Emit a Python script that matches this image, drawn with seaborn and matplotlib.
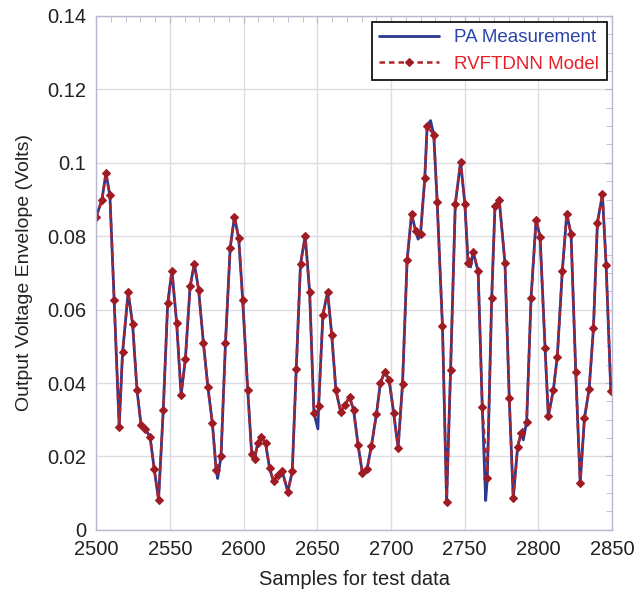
import numpy as np
import pandas as pd
import matplotlib
matplotlib.use("Agg")
import matplotlib.pyplot as plt
import seaborn as sns
from matplotlib.ticker import MultipleLocator

# Sample index where each model marker sits
model_samples = [
    2500.0, 2503.9, 2506.6, 2509.3, 2512.2, 2515.6, 2517.9, 2521.7, 2524.7, 2527.7,
    2530.4, 2533.3, 2536.5, 2539.4, 2542.3, 2545.5, 2548.5, 2551.4, 2554.6, 2557.6,
    2560.5, 2563.7, 2566.6, 2569.5, 2572.7, 2575.8, 2578.8, 2581.4, 2584.7, 2587.7,
    2590.9, 2593.8, 2596.7, 2599.4, 2602.8, 2605.5, 2607.4, 2609.6, 2611.9, 2614.9,
    2617.6, 2620.3, 2623.2, 2626.2, 2630.0, 2633.0, 2635.7, 2638.6, 2641.8, 2644.8,
    2647.7, 2650.9, 2653.8, 2657.0, 2659.8, 2662.6, 2665.8, 2668.5, 2671.9, 2674.6,
    2677.6, 2680.6, 2683.7, 2686.7, 2690.1, 2692.8, 2695.7, 2698.7, 2701.8, 2704.8,
    2707.8, 2710.9, 2713.9, 2716.8, 2720.0, 2722.9, 2724.5, 2729.0, 2731.3, 2734.9,
    2737.7, 2740.4, 2743.6, 2747.2, 2750.1, 2752.3, 2755.7, 2759.1, 2761.9, 2765.3,
    2768.3, 2770.5, 2773.4, 2777.3, 2780.2, 2782.9, 2785.9, 2788.2, 2792.0, 2795.0,
    2798.4, 2801.1, 2804.5, 2806.7, 2810.1, 2812.8, 2816.2, 2819.2, 2822.1, 2825.3,
    2828.3, 2831.2, 2834.4, 2837.3, 2840.0, 2843.4, 2845.9, 2849.1,
]
model_volts = [
    0.0853, 0.0899, 0.0972, 0.0911, 0.0625, 0.0281, 0.0484, 0.0647, 0.0560, 0.0381,
    0.0286, 0.0274, 0.0254, 0.0165, 0.0082, 0.0327, 0.0617, 0.0706, 0.0563, 0.0368,
    0.0465, 0.0663, 0.0725, 0.0654, 0.0510, 0.0388, 0.0291, 0.0163, 0.0202, 0.0509,
    0.0769, 0.0853, 0.0794, 0.0625, 0.0381, 0.0206, 0.0193, 0.0236, 0.0254, 0.0236,
    0.0168, 0.0132, 0.0150, 0.0159, 0.0104, 0.0159, 0.0438, 0.0724, 0.0801, 0.0647,
    0.0318, 0.0338, 0.0586, 0.0649, 0.0530, 0.0381, 0.0322, 0.0340, 0.0361, 0.0327,
    0.0232, 0.0154, 0.0165, 0.0229, 0.0315, 0.0400, 0.0431, 0.0409, 0.0318, 0.0223,
    0.0398, 0.0734, 0.0860, 0.0813, 0.0806, 0.0958, 0.1100, 0.1076, 0.0894, 0.0554,
    0.0077, 0.0436, 0.0888, 0.1003, 0.0887, 0.0726, 0.0758, 0.0704, 0.0334, 0.0141,
    0.0633, 0.0881, 0.0899, 0.0726, 0.0359, 0.0086, 0.0227, 0.0263, 0.0295, 0.0633,
    0.0845, 0.0799, 0.0495, 0.0309, 0.0381, 0.0472, 0.0706, 0.0861, 0.0806, 0.0431,
    0.0127, 0.0304, 0.0384, 0.0549, 0.0837, 0.0914, 0.0722, 0.0377,
]

# Measurement extremes that fall between model markers
extra_samples = [2499.0, 2582.4, 2650.4, 2718.4, 2726.8, 2754.0, 2764.2, 2789.7, 2850.5]
extra_volts = [0.0790, 0.0140, 0.0275, 0.0792, 0.1115, 0.0716, 0.0080, 0.0245, 0.0400]

model = pd.DataFrame({"sample": model_samples, "volts": model_volts})
meas = pd.concat([model, pd.DataFrame({"sample": extra_samples, "volts": extra_volts})])
meas = meas.sort_values("sample").reset_index(drop=True)

sns.set_style("white")
plt.rcParams["font.family"] = ["Liberation Sans", "DejaVu Sans"]

fig = plt.figure(figsize=(6.37, 5.92), dpi=100)
ax = fig.add_axes([0.151, 0.105, 0.810, 0.868])

sns.lineplot(data=meas, x="sample", y="volts", ax=ax, color="#2b3990",
             linewidth=2, sort=False, label="PA Measurement")
sns.lineplot(data=model, x="sample", y="volts", ax=ax, color="#b0242a",
             linewidth=1.8, linestyle=(0, (2.2, 1.6)), marker="D", markersize=3.6,
             markeredgecolor="#a01c24", markerfacecolor="#a01c24", markeredgewidth=0.8,
             sort=False, label="RVFTDNN Model")

ax.set_xlim(2500, 2850)
ax.set_ylim(0, 0.14)
ax.xaxis.set_major_locator(MultipleLocator(50))
ax.xaxis.set_minor_locator(MultipleLocator(10))
ax.yaxis.set_minor_locator(MultipleLocator(0.005))
ax.set_yticks(np.arange(0, 0.141, 0.02))
ax.set_yticklabels(["0", "0.02", "0.04", "0.06", "0.08", "0.1", "0.12", "0.14"])

ax.grid(True, which="major", color="#dcdce4", linewidth=1)
for s in ax.spines.values():
    s.set_color("#b8b8d0")
    s.set_linewidth(1)
ax.tick_params(which="both", direction="in", colors="#b8b8d0",
               labelcolor="#222222", labelsize=14.5, top=True, right=True)
ax.tick_params(which="major", length=5, pad=7)
ax.tick_params(which="minor", length=4)

ax.set_xlabel("Samples for test data", fontsize=14.5, color="#222222", labelpad=8)
ax.set_ylabel("Output Voltage Envelope (Volts)", fontsize=14, color="#222222", labelpad=10)

leg = ax.legend(loc="upper right", fontsize=13.5, frameon=True, fancybox=False,
                framealpha=1, edgecolor="black", handlelength=3.2,
                borderaxespad=0.3, labelcolor=["#2a45a8", "#e8202a"])
leg.get_frame().set_linewidth(1.2)

fig.savefig("out.png", dpi=100)
